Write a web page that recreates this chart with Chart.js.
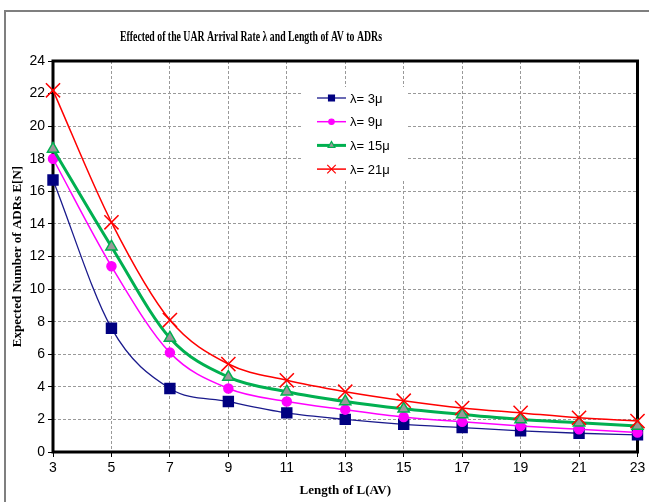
<!DOCTYPE html>
<html>
<head>
<meta charset="utf-8">
<script src="https://cdn.jsdelivr.net/npm/chart.js@4.4.1/dist/chart.umd.min.js"></script>
<style>
  body { margin: 0; background: #fff; }
  #wrap { position: relative; width: 649px; height: 502px; overflow: hidden; }
  #frame { position: absolute; left: 4px; top: 10px; width: 700px; height: 600px;
           border-left: 2px solid #7f7f7f; border-top: 2px solid #7f7f7f; }
  canvas { position: absolute; left: 0; top: 0; }
</style>
</head>
<body>
<div id="wrap"><div id="frame"></div><canvas id="adrChart" width="649" height="502"></canvas></div>
<script>
// values
const lengths = [3, 5, 7, 9, 11, 13, 15, 17, 19, 21, 23];
const rate3  = [16.7, 7.6, 3.9, 3.1, 2.4, 2.0, 1.7, 1.5, 1.3, 1.15, 1.05];
const rate9  = [18.0, 11.4, 6.1, 3.9, 3.1, 2.6, 2.15, 1.85, 1.6, 1.4, 1.2];
const rate15 = [18.6, 12.6, 7.0, 4.6, 3.7, 3.1, 2.65, 2.3, 2.0, 1.8, 1.6];
const rate21 = [22.2, 14.1, 8.1, 5.4, 4.4, 3.7, 3.15, 2.7, 2.4, 2.1, 1.9];
const seriesLabels = ['λ= 3μ', 'λ= 9μ', 'λ= 15μ', 'λ= 21μ'];
const chartTitle = 'Effected of the UAR Arrival Rate λ and Length of AV to ADRs';

const looks = [
  { line: '#1a1a8c', fill: '#000080', edge: '#000080', width: 1.3, point: 'rect', r: 7 },
  { line: '#ff00ff', fill: '#ff00ff', edge: '#ff00ff', width: 1.5, point: 'circle', r: 4.5 },
  { line: '#00b050', fill: '#999999', edge: '#00b050', width: 3, point: 'triangle', r: 6.5 },
  { line: '#ff0000', fill: '#ff0000', edge: '#ff0000', width: 1.5, point: 'crossRot', r: 10 }
];

const allRates = [rate3, rate9, rate15, rate21];

const datasets = allRates.map((vals, i) => ({
  label: seriesLabels[i],
  data: vals.map((v, k) => ({ x: lengths[k], y: v })),
  borderColor: looks[i].line,
  borderWidth: looks[i].width,
  pointStyle: looks[i].point,
  pointRadius: looks[i].r,
  pointBackgroundColor: looks[i].fill,
  pointBorderColor: looks[i].edge,
  pointBorderWidth: 1.5,
  tension: 0.4,
  cubicInterpolationMode: 'monotone',
  clip: false,
  order: 4 - i
}));

// black plot frame, title and the legend box inside the plot
const extras = {
  id: 'extras',
  beforeDatasetsDraw(chart) {
    const { ctx, chartArea: a } = chart;
    ctx.save();
    ctx.strokeStyle = '#000';
    ctx.lineWidth = 3;
    ctx.strokeRect(a.left, a.top, a.right - a.left, a.bottom - a.top);
    ctx.restore();
  },
  afterDraw(chart) {
    const ctx = chart.ctx;
    ctx.save();
    ctx.font = 'bold 14px "Liberation Serif"';
    ctx.fillStyle = '#000';
    ctx.textAlign = 'center';
    ctx.textBaseline = 'middle';
    const w = ctx.measureText(chartTitle).width;
    ctx.translate(251, 37);
    ctx.scale(262 / w, 1);
    ctx.fillText(chartTitle, 0, 0);
    ctx.restore();

    ctx.save();
    ctx.fillStyle = '#fff';
    ctx.fillRect(303, 87, 104, 92);
    chart.data.datasets.forEach((ds, i) => {
      const y = 98 + i * 23.7;
      ctx.strokeStyle = ds.borderColor;
      ctx.lineWidth = ds.borderWidth;
      ctx.beginPath();
      ctx.moveTo(317, y);
      ctx.lineTo(346, y);
      ctx.stroke();
      ctx.fillStyle = ds.pointBackgroundColor;
      ctx.strokeStyle = ds.pointBorderColor;
      ctx.lineWidth = 1.2;
      Chart.helpers.drawPoint(ctx, {
        pointStyle: ds.pointStyle, radius: ds.pointRadius * 0.6, borderWidth: 1.2, rotation: 0
      }, 331.5, y);
      ctx.fillStyle = '#000';
      ctx.font = '13px "Liberation Sans"';
      ctx.textAlign = 'left';
      ctx.textBaseline = 'middle';
      ctx.fillText(ds.label, 350, y + 1);
    });
    ctx.restore();
  }
};

const tickFont = { family: 'Liberation Sans', size: 14 };
const titleFont = { family: 'Liberation Serif', weight: 'bold', size: 13 };
const gridOpts = { color: '#999999', lineWidth: 1, tickColor: '#000', tickLength: 5, tickBorderDash: [] };

new Chart(document.getElementById('adrChart'), {
  type: 'line',
  data: { datasets },
  options: {
    responsive: false,
    devicePixelRatio: 1,
    animation: false,
    layout: { padding: { top: 61, right: 9, left: 0, bottom: 0 } },
    plugins: { legend: { display: false }, tooltip: { enabled: false }, title: { display: false } },
    scales: {
      x: {
        type: 'linear', min: 3, max: 23,
        ticks: { stepSize: 2, color: '#000', font: tickFont, padding: 3, maxRotation: 0 },
        grid: gridOpts,
        border: { display: false, dash: [3, 2] },
        title: { display: true, text: 'Length of L(AV)', color: '#000', font: titleFont, padding: { top: 0, bottom: 4 } },
        afterFit(s) { s.height = 50; }
      },
      y: {
        min: 0, max: 24,
        ticks: { stepSize: 2, color: '#000', font: tickFont, padding: 3 },
        grid: gridOpts,
        border: { display: false, dash: [3, 2] },
        title: { display: true, text: 'Expected Number of ADRs E[N]', color: '#000', font: titleFont, padding: { top: 10, bottom: 0 } },
        afterFit(s) { s.width = 53; }
      }
    }
  },
  plugins: [extras]
});
</script>
</body>
</html>
